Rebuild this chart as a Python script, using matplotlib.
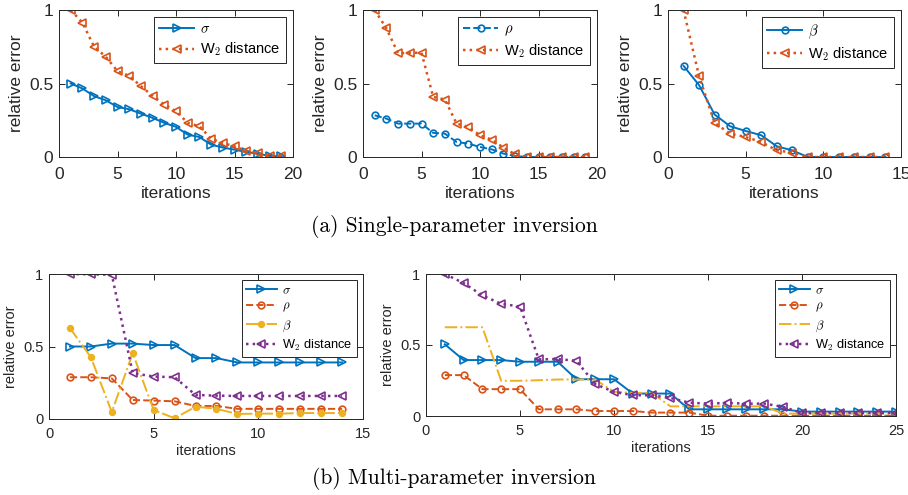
import matplotlib
matplotlib.use("Agg")
import matplotlib.pyplot as plt

it19 = list(range(1, 20))
sigma_a = [0.50, 0.466, 0.414, 0.386, 0.34, 0.325, 0.295, 0.266, 0.232, 0.205,
           0.152, 0.136, 0.084, 0.064, 0.05, 0.034, 0.023, 0.007, 0.005]
w2_a = [1.0, 0.914, 0.75, 0.682, 0.584, 0.552, 0.482, 0.416, 0.357, 0.311,
        0.232, 0.209, 0.125, 0.095, 0.073, 0.041, 0.027, 0.007, 0.005]

rho_b = [0.284, 0.261, 0.227, 0.227, 0.227, 0.164, 0.159, 0.102, 0.091, 0.068,
         0.052, 0.023, 0.007, 0, 0, 0, 0, 0, 0]
w2_b = [1.0, 0.875, 0.705, 0.709, 0.709, 0.409, 0.391, 0.227, 0.205, 0.148,
        0.118, 0.064, 0.018, 0, 0, 0, 0, 0, 0]

it14 = list(range(1, 15))
beta_c = [0.62, 0.489, 0.289, 0.209, 0.177, 0.148, 0.073, 0.045, 0, 0, 0, 0, 0, 0]
w2_c = [1.0, 0.55, 0.232, 0.159, 0.136, 0.102, 0.045, 0.03, 0, 0, 0, 0, 0, 0]

# multi-parameter, 14 iterations
sigma_d = [0.5, 0.5, 0.52, 0.52, 0.51, 0.51, 0.42, 0.42, 0.39, 0.39, 0.39, 0.39, 0.39, 0.39]
rho_d = [0.288, 0.288, 0.28, 0.131, 0.127, 0.122, 0.09, 0.09, 0.07, 0.07, 0.07, 0.07, 0.07, 0.07]
beta_d = [0.627, 0.426, 0.048, 0.454, 0.062, 0.005, 0.085, 0.07, 0.035, 0.037, 0.037, 0.041, 0.041, 0.041]
w2_d = [1.0, 0.998, 0.995, 0.316, 0.293, 0.288, 0.166, 0.161, 0.159, 0.159, 0.159, 0.159, 0.159, 0.159]

# multi-parameter, 25 iterations
it25 = list(range(1, 26))
sigma_e = [0.505, 0.394, 0.394, 0.394, 0.382, 0.382, 0.382, 0.259, 0.259, 0.259,
           0.158, 0.158, 0.158, 0.047, 0.047, 0.047, 0.047, 0.047, 0.047, 0.031,
           0.031, 0.031, 0.031, 0.031, 0.031]
rho_e = [0.288, 0.288, 0.189, 0.189, 0.189, 0.047, 0.047, 0.047, 0.035, 0.035,
         0.035, 0.024, 0.024, 0.024, 0.002, 0.002, 0.002, 0.002, 0.002, 0.002,
         0.002, 0.002, 0.002, 0.002, 0.002]
beta_e = [0.625, 0.625, 0.625, 0.248, 0.248, 0.252, 0.257, 0.257, 0.257, 0.17,
          0.163, 0.163, 0.068, 0.068, 0.068, 0.068, 0.068, 0.068, 0.017, 0.017,
          0.017, 0.017, 0.017, 0.017, 0.017]
w2_e = [1.0, 0.936, 0.849, 0.79, 0.771, 0.399, 0.401, 0.389, 0.224, 0.17,
        0.146, 0.146, 0.127, 0.094, 0.087, 0.092, 0.087, 0.087, 0.064, 0.021,
        0.021, 0.021, 0.021, 0.021, 0.021]

blue = "#0072BD"
orange = "#D95319"
yellow = "#EDB120"
purple = "#7E2F8E"
axcol = "#262626"

plt.rcParams["font.family"] = ["Liberation Sans", "DejaVu Sans"]
plt.rcParams["mathtext.fontset"] = "cm"

W = 908
H = 495
fig = plt.figure(figsize=(W / 100, H / 100), dpi=100)


def make_ax(l, t, r, b):
    return fig.add_axes([l / W, 1 - b / H, (r - l) / W, (b - t) / H])


def style(ax, xmax, fs, lfs, xpad, lpad, ylabpad=4):
    ax.set_xlim(0, xmax)
    ax.set_ylim(0, 1)
    ax.set_yticks([0, 0.5, 1])
    ax.set_yticklabels(["0", "0.5", "1"])
    ax.tick_params(direction="in", top=True, right=True, length=4, width=0.7,
                   colors=axcol, labelsize=fs, labelcolor=axcol, pad=4)
    ax.tick_params(axis="x", pad=xpad)
    for s in ax.spines.values():
        s.set_color(axcol)
        s.set_linewidth(0.7)
    ax.set_xlabel("iterations", fontsize=fs, color=axcol, labelpad=lpad)
    ax.set_ylabel("relative error", fontsize=fs, color=axcol, labelpad=ylabpad)
    leg = ax.legend(loc="upper right", fontsize=lfs, fancybox=False, framealpha=1,
                    edgecolor=axcol, handlelength=2.4, borderpad=0.35,
                    labelspacing=0.3, handletextpad=0.4, borderaxespad=0.5)
    leg.get_frame().set_linewidth(0.7)


ms = 5.3
lw = 1.4

ax1 = make_ax(59, 10, 293, 157)
ax1.plot(it19, sigma_a, "->", color=blue, lw=lw, ms=ms, mfc="none", mew=1.2, label=r"$\sigma$")
ax1.plot(it19, w2_a, ":<", color=orange, lw=lw + 0.4, ms=ms, mfc="none", mew=1.2, label=r"W$_2$ distance")
style(ax1, 20, 12.5, 10.5, 7, 3)

ax2 = make_ax(363, 10, 597, 157)
ax2.plot(it19, rho_b, "--o", color=blue, lw=lw, ms=ms - 0.5, mfc="none", mew=1.2, label=r"$\rho$")
ax2.plot(it19, w2_b, ":<", color=orange, lw=lw + 0.4, ms=ms, mfc="none", mew=1.2, label=r"W$_2$ distance")
style(ax2, 20, 12.5, 10.5, 7, 3)

ax3 = make_ax(668, 10, 901, 157)
ax3.plot(it14, beta_c, "-o", color=blue, lw=lw, ms=ms - 0.5, mfc="none", mew=1.2, label=r"$\beta$")
ax3.plot(it14, w2_c, ":<", color=orange, lw=lw + 0.4, ms=ms, mfc="none", mew=1.2, label=r"W$_2$ distance")
style(ax3, 15, 12.5, 10.5, 7, 3)
ax3.set_xticks([0, 5, 10, 15])

ax4 = make_ax(49, 274, 363, 419)
ax4.plot(it14, sigma_d, "->", color=blue, lw=lw, ms=ms, mfc="none", mew=1.2, label=r"$\sigma$")
ax4.plot(it14, rho_d, "--o", color=orange, lw=lw, ms=ms - 0.5, mfc="none", mew=1.2, label=r"$\rho$")
ax4.plot(it14, beta_d, "-.o", color=yellow, lw=lw, ms=ms - 1, mfc=yellow, mew=1, label=r"$\beta$")
ax4.plot(it14, w2_d, ":<", color=purple, lw=lw + 0.4, ms=ms, mfc="none", mew=1.2, label=r"W$_2$ distance")
style(ax4, 15, 10.5, 9.2, 6, 2)
ax4.set_xticks([0, 5, 10, 15])

ax5 = make_ax(426, 274, 896, 416)
ax5.plot(it25, sigma_e, "->", color=blue, lw=lw, ms=ms, mfc="none", mew=1.2, label=r"$\sigma$")
ax5.plot(it25, rho_e, "--o", color=orange, lw=lw, ms=ms - 0.5, mfc="none", mew=1.2, label=r"$\rho$")
ax5.plot(it25, beta_e, "-.", color=yellow, lw=lw, label=r"$\beta$")
ax5.plot(it25, w2_e, ":<", color=purple, lw=lw + 0.4, ms=ms, mfc="none", mew=1.2, label=r"W$_2$ distance")
style(ax5, 25, 10.5, 9.2, 6, 2)
ax5.set_xticks([0, 5, 10, 15, 20, 25])

fig.text(454 / W, 1 - 226 / H, "(a) Single-parameter inversion", family="cmr10",
         fontsize=15.5, ha="center", va="center")
fig.text(454 / W, 1 - 478 / H, "(b) Multi-parameter inversion", family="cmr10",
         fontsize=15.5, ha="center", va="center")

fig.savefig("out.png", dpi=100)
